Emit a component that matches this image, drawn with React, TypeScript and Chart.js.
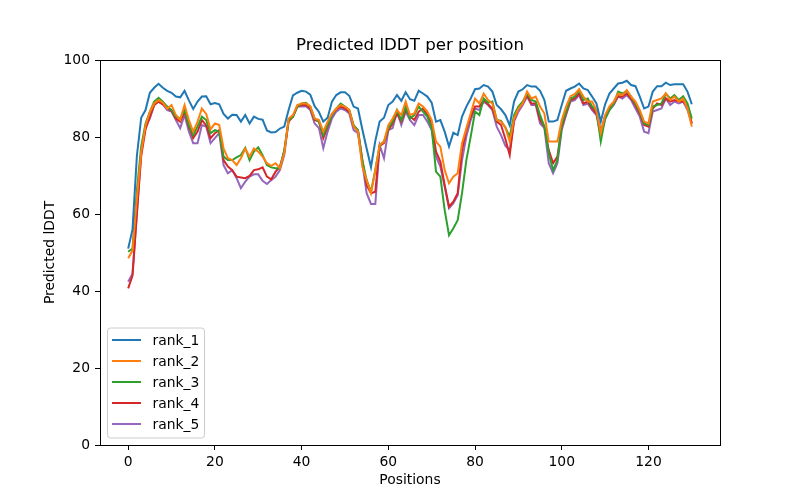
import { useEffect, useRef } from "react";
import { Chart, registerables } from "chart.js";

Chart.register(...registerables);

const positions = Array.from({ length: 131 }, (_, i) => i);

const rank1 = [
  51, 56, 75, 85, 87, 91.5, 92.8, 93.8, 92.8, 92,
  91.5, 90.5, 90.3, 92, 89.5, 87.3, 89.2, 90.5, 90.6, 88.5,
  88.8, 88.5, 86, 84.8, 85.8, 85.7, 84, 85.7, 83.5, 85.3,
  84.7, 84.5, 81.7, 81.2, 81.3, 82.2, 82.7, 87, 90.8, 91.5,
  92, 91.8, 91, 88, 86.5, 84, 85, 89.2, 90.9, 91.6,
  91.6, 90.7, 87.9, 87.4, 82, 77, 72.2, 79, 84, 85,
  88.3, 89.2, 90.9, 89.4, 91.6, 89.8, 89.4, 92, 91.3, 90.5,
  88.9, 84, 84.4, 81.4, 77.5, 81.1, 80.5, 85.3, 87.9, 90,
  92.4, 92.6, 93.5, 93.1, 91.8, 88.3, 87.2, 85.7, 83, 89.2,
  91.8, 92.4, 93.5, 93.1, 93.1, 92, 89.6, 84, 84, 84.4,
  88.3, 92, 92.6, 93.1, 93.9, 92.6, 92.2, 90.5, 88.7, 84,
  88.5, 91.3, 92.6, 93.9, 94.1, 94.6, 93.5, 93.2, 90.5, 87.4,
  87.9, 91.8, 93.2, 93.2, 94.1, 93.5, 93.7, 93.7, 93.7, 91.8,
  88.5,
];

const rank2 = [
  48.5, 50.5, 64, 76, 83, 86.5, 88.7, 89.6, 88.9, 87.4,
  88.3, 85.7, 84.5, 88.3, 84.4, 81.4, 84, 87.4, 86, 82,
  83.5, 83.1, 77, 74.5, 74, 72.7, 74.5, 77, 74.9, 77,
  76.2, 74.9, 73.2, 72.5, 73.2, 71.9, 75.8, 84.8, 85.7, 88.3,
  88.7, 88.7, 88, 84.8, 84.4, 81.4, 84, 86.1, 87.4, 88.3,
  87.9, 87, 82.7, 81.4, 72.3, 68.8, 65.4, 71.4, 77.9, 78.8,
  83.1, 84.8, 87, 85.7, 89.2, 85.7, 86.1, 88.7, 87.9, 86.6,
  84.4, 78.8, 77.5, 71.4, 68, 69.7, 70.6, 78.4, 82.3, 86.1,
  90, 88.7, 91.3, 89.6, 88.7, 84.4, 84, 82.5, 78.8, 84.8,
  87.4, 88.7, 91.8, 90, 90.5, 87.9, 86.1, 78.8, 78.8, 78.8,
  84.4, 87.9, 90.6, 91.1, 92.4, 90.5, 89.2, 89.2, 87, 81,
  85.7, 88, 89.2, 91.3, 90.9, 92.2, 90.5, 89.2, 87, 84,
  83.5, 89.2, 89.6, 90, 91.3, 89.6, 90.5, 89.2, 90, 87.4,
  82.7,
];

const rank3 = [
  50.2, 51, 66, 77.5, 83.5, 86.5, 89.2, 90.2, 89.2, 87.9,
  87, 85.3, 84.8, 87, 83.1, 80.5, 82.7, 85.3, 84.4, 81,
  81.8, 81.4, 74.9, 74, 74, 74.7, 75.3, 77.2, 74, 76.2,
  77.3, 75.3, 72.7, 72.1, 71.9, 71.9, 76.6, 84.4, 85.3, 87.9,
  88.7, 88.9, 87.9, 84.8, 84, 80.5, 83.1, 85.7, 87.4, 88.7,
  87.9, 87, 83.1, 81.8, 74, 68.8, 65.8, 71.4, 77.9, 78.8,
  82.3, 84, 87, 84.4, 87.9, 84.8, 85.7, 87.9, 86.6, 85.3,
  82.3, 71, 69.7, 61, 54.5, 56.3, 58.4, 65.4, 74, 80.1,
  86.6, 85.7, 90, 88.9, 89.2, 84.4, 84.2, 82.5, 80.1, 85.7,
  87.9, 89.2, 91.3, 89.6, 89.2, 85.7, 82.7, 75.8, 71.4, 74,
  83.1, 86.6, 90, 90.5, 92.2, 89.6, 90, 87.9, 87, 78.8,
  84.8, 87, 88.7, 91.8, 91.3, 92, 90.5, 88.7, 86.6, 83.5,
  83.1, 87.9, 88.3, 88.7, 91.3, 90, 90.9, 89.6, 90.6, 88.7,
  84.8,
];

const rank4 = [
  40.7, 44, 60, 75, 82, 85.3, 88.3, 89.2, 88.5, 87.6,
  86.8, 84.8, 84, 86.6, 82.7, 79.7, 81.4, 84.4, 83, 79.7,
  81, 81.8, 74, 72.3, 71.4, 69.7, 69.5, 69.3, 69.9, 71.4,
  71.6, 72.1, 69.7, 69, 71, 72.3, 76.2, 84, 85.3, 87.9,
  88.3, 88.3, 87.4, 84.4, 84, 79.7, 82.7, 85.7, 87.2, 87.9,
  87.4, 86.6, 82.7, 81.8, 74, 67.5, 65.4, 65.8, 77.7, 78.4,
  81.8, 83.5, 86.1, 84, 87, 85.3, 84.4, 86.6, 87.4, 85.7,
  83.5, 76.2, 73.6, 67.5, 61.9, 63.2, 65.4, 76.6, 81.8, 85.3,
  87.9, 87.9, 89.6, 88.5, 87.4, 84, 83.1, 79.5, 75.3, 84.4,
  87.4, 88.7, 90.9, 88.7, 88.7, 84.4, 82.7, 76.6, 73.2, 74.9,
  82.7, 86.1, 89.6, 90, 91.3, 88.7, 89.2, 87.4, 86.1, 81.4,
  85.5, 87.4, 88.7, 90.6, 90.5, 91.3, 90, 88.3, 86.1, 83.1,
  82.7, 87.4, 88.7, 88.3, 90, 89.2, 89.6, 89.2, 89.2, 87.9,
  83.5,
];

const rank5 = [
  42.4, 44.5, 60, 76, 82.7, 84.8, 88.3, 89.2, 88.5, 87,
  86.6, 84.4, 82.3, 85.7, 81.4, 78.4, 78.4, 83.1, 82.7, 78.4,
  79.7, 81, 72.7, 70.6, 71.4, 69.3, 66.7, 68.4, 69.7, 70.3,
  70.3, 68.6, 67.8, 68.8, 69.7, 71.4, 75.3, 84.4, 85.3, 87.9,
  87.9, 88, 87, 83.5, 82.3, 77.1, 81.4, 84.8, 86.6, 87.4,
  87, 86.1, 81.8, 81, 73.2, 65.4, 62.6, 62.6, 77.9, 74.5,
  81.8, 82.3, 86.6, 83.1, 86.6, 84.4, 83.1, 85.7, 85.7, 84,
  81.8, 74.9, 72.3, 67.1, 61.5, 62.8, 64.9, 74, 80.1, 84.4,
  87.4, 87, 89.2, 88.3, 87, 82.7, 80.5, 77.7, 76.6, 84,
  86.6, 88.3, 90.5, 88.3, 88.3, 83.5, 82.3, 73.2, 70.6, 73.2,
  81.8, 85.7, 89.2, 89.6, 90.9, 88.3, 88.7, 87, 85.7, 80.3,
  84.6, 87, 88.3, 90.5, 90, 90.9, 89.6, 87.4, 85.3, 81.4,
  81, 86.6, 87, 87.4, 90, 88.3, 89.2, 88.7, 89.2, 87,
  83.5,
];

const seriesNames = ["rank_1", "rank_2", "rank_3", "rank_4", "rank_5"];
const seriesValues = [rank1, rank2, rank3, rank4, rank5];
const seriesColors = ["#1f77b4", "#ff7f0e", "#2ca02c", "#d62728", "#9467bd"];
const xTicks = [0, 20, 40, 60, 80, 100, 120];
const yTicks = [0, 20, 40, 60, 80, 100];

const FONT = "'DejaVu Sans', sans-serif";
const TICK_SIZE = 13.89;

const framePlugin = {
  id: "frame",
  afterDatasetsDraw(chart: any) {
    const { ctx, chartArea } = chart;
    ctx.save();
    ctx.strokeStyle = "#000";
    ctx.lineWidth = 1;
    const l = Math.round(chartArea.left) + 0.5;
    const t = Math.round(chartArea.top) + 0.5;
    const r = Math.round(chartArea.right) + 0.5;
    const b = Math.round(chartArea.bottom) + 0.5;
    ctx.strokeRect(l, t, r - l, b - t);
    ctx.restore();
  },
  afterDraw(chart: any) {
    const { ctx, chartArea } = chart;
    const datasets = chart.data.datasets;
    const boxLeft = chartArea.left + 7.5;
    const boxH = 110;
    const boxW = 97;
    const boxTop = chartArea.bottom - 7 - boxH;
    ctx.save();
    ctx.beginPath();
    ctx.roundRect(boxLeft, boxTop, boxW, boxH, 3);
    ctx.fillStyle = "rgba(255,255,255,0.8)";
    ctx.fill();
    ctx.strokeStyle = "#cccccc";
    ctx.lineWidth = 1;
    ctx.stroke();
    ctx.font = `${TICK_SIZE}px ${FONT}`;
    ctx.textBaseline = "middle";
    ctx.textAlign = "left";
    datasets.forEach((ds: any, k: number) => {
      const y = boxTop + 12 + k * 21;
      ctx.beginPath();
      ctx.strokeStyle = ds.borderColor;
      ctx.lineWidth = 2;
      ctx.moveTo(boxLeft + 4.5, y);
      ctx.lineTo(boxLeft + 33.5, y);
      ctx.stroke();
      ctx.fillStyle = "#000";
      ctx.fillText(ds.label, boxLeft + 45, y + 1);
    });
    ctx.restore();
  },
};

export default function App() {
  const canvasRef = useRef<HTMLCanvasElement | null>(null);

  useEffect(() => {
    if (!canvasRef.current) return;
    const datasets = seriesNames.map((name, k) => ({
      label: name,
      data: positions.map((p, i) => ({ x: p, y: seriesValues[k][i] })),
      borderColor: seriesColors[k],
      backgroundColor: seriesColors[k],
      borderWidth: 2,
      pointRadius: 0,
      tension: 0,
      fill: false,
    }));

    const chart = new Chart(canvasRef.current, {
      type: "line",
      data: { datasets },
      plugins: [framePlugin],
      options: {
        animation: false,
        responsive: false,
        events: [],
        layout: { padding: { left: 0, right: 80, top: 0, bottom: 0 } },
        plugins: {
          legend: { display: false },
          tooltip: { enabled: false },
          title: {
            display: true,
            text: "Predicted lDDT per position",
            fullSize: false,
            color: "#000",
            font: { family: FONT, size: 16.67, weight: "normal", lineHeight: 1.2 },
            padding: { top: 36, bottom: 4 },
          },
        },
        scales: {
          x: {
            type: "linear",
            min: -6.5,
            max: 136.5,
            afterBuildTicks: (scale: any) => {
              scale.ticks = xTicks.map((v) => ({ value: v }));
            },
            afterFit: (scale: any) => {
              scale.height = 55;
            },
            grid: {
              display: true,
              drawOnChartArea: false,
              drawTicks: true,
              tickLength: 5,
              color: "#000",
              lineWidth: 1,
            },
            border: { display: false },
            ticks: {
              color: "#000",
              padding: 4,
              maxRotation: 0,
              autoSkip: false,
              font: { family: FONT, size: TICK_SIZE },
            },
            title: {
              display: true,
              text: "Positions",
              color: "#000",
              font: { family: FONT, size: TICK_SIZE, lineHeight: 1.2 },
              padding: { top: 0, bottom: 11.7 },
            },
          },
          y: {
            type: "linear",
            min: 0,
            max: 100,
            afterBuildTicks: (scale: any) => {
              scale.ticks = yTicks.map((v) => ({ value: v }));
            },
            afterFit: (scale: any) => {
              scale.width = 100;
            },
            grid: {
              display: true,
              drawOnChartArea: false,
              drawTicks: true,
              tickLength: 5,
              color: "#000",
              lineWidth: 1,
            },
            border: { display: false },
            ticks: {
              color: "#000",
              padding: 5,
              autoSkip: false,
              font: { family: FONT, size: TICK_SIZE },
            },
            title: {
              display: true,
              text: "Predicted lDDT",
              color: "#000",
              font: { family: FONT, size: TICK_SIZE, lineHeight: 1.2 },
              padding: { top: 41.7, bottom: 0 },
            },
          },
        },
      },
    } as any);

    return () => {
      chart.destroy();
    };
  }, []);

  return (
    <div style={{ position: "absolute", left: 0, top: 0, width: 800, height: 500, background: "#fff" }}>
      <canvas ref={canvasRef} width={800} height={500} style={{ display: "block", width: 800, height: 500 }} />
    </div>
  );
}
